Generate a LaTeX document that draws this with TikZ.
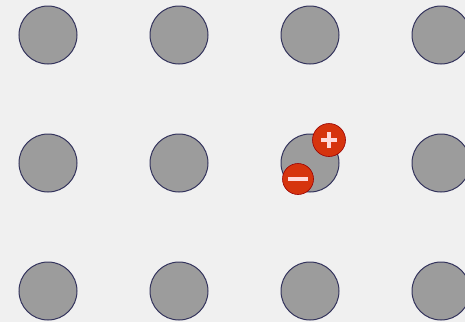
\documentclass[tikz,border=0pt]{standalone}
\begin{document}
\begin{tikzpicture}[x=1pt,y=-1pt,
  atom/.style={circle,draw=black!80!blue!80,line width=1pt,fill=gray!78,minimum size=58pt,inner sep=0pt},
  charge/.style={circle,draw=red!60!black,line width=0.6pt,fill={rgb,255:red,214;green,52;blue,14},minimum size=33pt,inner sep=0pt}]
\fill[black!6] (0,0) rectangle (465,322);
\useasboundingbox (0,0) rectangle (465,322);
\foreach \r/\y in {1/35,2/163,3/291}{
  \foreach \c/\x in {1/48,2/179,3/310,4/441}{
    \node[atom] (a\r\c) at (\x,\y) {};
  }
}
\node[charge] (plus) at (329,140) {};
\node[charge,minimum size=31pt] (minus) at (298,179) {};
\draw[white!85!red,line width=3.5pt] ([xshift=-8pt]plus.center) -- ([xshift=8pt]plus.center);
\draw[white!85!red,line width=3.5pt] ([yshift=-8pt]plus.center) -- ([yshift=8pt]plus.center);
\draw[white!85!red,line width=4pt] ([xshift=-10pt]minus.center) -- ([xshift=10pt]minus.center);
\end{tikzpicture}
\end{document}
